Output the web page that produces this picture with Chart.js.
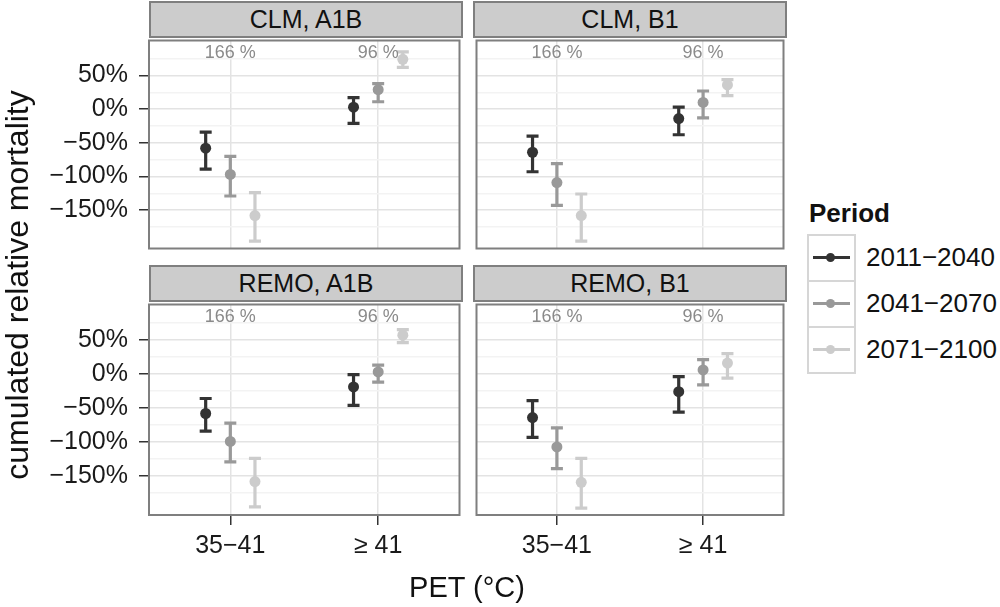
<!DOCTYPE html>
<html>
<head>
<meta charset="utf-8">
<script src="https://cdn.jsdelivr.net/npm/chart.js@4.4.1/dist/chart.umd.min.js"></script>
<style>
  body { margin: 0; background: #fff; font-family: "Liberation Sans", Arial, sans-serif; }
  #wrap { position: relative; width: 1000px; height: 607px; overflow: hidden; }
  .panel { position: absolute; }
  .strip { position: absolute; box-sizing: border-box; background: #cccccc; border: 2px solid #7f7f7f;
           font-size: 25px; color: #111; text-align: center; line-height: 32px; }
  .title { position: absolute; color: #111; font-size: 29px; text-align: center; white-space: nowrap; }
  .legend-title { position: absolute; left: 809px; top: 198px; font-size: 26px; font-weight: bold; color: #111; }
  .key { position: absolute; left: 807px; width: 49px; height: 48px; box-sizing: border-box; border: 2px solid #d6d6d6; }
  .key .ln { position: absolute; left: 4px; right: 4px; top: 20px; height: 3px; }
  .key .dot { position: absolute; left: 17px; top: 17px; width: 9px; height: 9px; border-radius: 50%; }
  .key-label { position: absolute; left: 866px; font-size: 26px; color: #111; line-height: 30px; }
</style>
</head>
<body>
<div id="wrap"></div>
<script>
const panelNames = ['CLM, A1B', 'CLM, B1', 'REMO, A1B', 'REMO, B1'];
const categories = ['35−41', '≥ 41'];
const periods = ['2011−2040', '2041−2070', '2071−2100'];
const periodColors = ['#333333', '#999999', '#cccccc'];
const topNotes = ['166 %', '96 %'];
const yMajorTicks = [-150, -100, -50, 0, 50];
const yMinorTicks = [-175, -125, -75, -25, 25, 75];

// one row per period, columns = [35-41, >=41], values in %
const clmA1bEst  = [[-58, 3], [-97, 29], [-158, 74]];
const clmA1bLow  = [[-89, -21], [-129, 11], [-196, 62]];
const clmA1bHigh = [[-34, 17], [-70, 38], [-124, 85]];

const clmB1Est  = [[-64, -14], [-109, 10], [-158, 36]];
const clmB1Low  = [[-93, -38], [-143, -13], [-196, 20]];
const clmB1High = [[-40, 3], [-81, 27], [-126, 44]];

const remoA1bEst  = [[-58, -19], [-99, 3], [-158, 57]];
const remoA1bLow  = [[-84, -46], [-129, -12], [-195, 46]];
const remoA1bHigh = [[-36, -1], [-72, 13], [-124, 65]];

const remoB1Est  = [[-64, -26], [-107, 6], [-159, 16]];
const remoB1Low  = [[-93, -56], [-139, -16], [-197, -6]];
const remoB1High = [[-39, -4], [-79, 21], [-124, 30]];

const panelData = [
  { est: clmA1bEst, low: clmA1bLow, high: clmA1bHigh },
  { est: clmB1Est, low: clmB1Low, high: clmB1High },
  { est: remoA1bEst, low: remoA1bLow, high: remoA1bHigh },
  { est: remoB1Est, low: remoB1Low, high: remoB1High }
];

// layout of the facet grid (plot area boxes)
const boxes = [
  { left: 149, top: 37, w: 314, h: 215, yLabels: true, xLabels: false },
  { left: 473, top: 37, w: 314, h: 215, yLabels: false, xLabels: false },
  { left: 149, top: 301, w: 314, h: 214, yLabels: true, xLabels: true },
  { left: 473, top: 301, w: 314, h: 214, yLabels: false, xLabels: true }
];
const dodge = 1 / 6;
const noteValue = 84;

Chart.defaults.font.family = '"Liberation Sans", Arial, sans-serif';

const wrap = document.getElementById('wrap');

const facetPlugin = {
  id: 'facet',
  beforeDatasetsDraw(chart) {
    const { ctx } = chart;
    const y = chart.scales.y;
    chart.data.datasets.forEach((ds, i) => {
      const meta = chart.getDatasetMeta(i);
      ctx.save();
      ctx.strokeStyle = ds.backgroundColor;
      ctx.lineWidth = 3.2;
      meta.data.forEach((pt, j) => {
        const d = ds.data[j];
        const top = y.getPixelForValue(d.hi);
        const bot = y.getPixelForValue(d.lo);
        ctx.beginPath();
        ctx.moveTo(pt.x, top); ctx.lineTo(pt.x, bot);
        ctx.moveTo(pt.x - 6, top); ctx.lineTo(pt.x + 6, top);
        ctx.moveTo(pt.x - 6, bot); ctx.lineTo(pt.x + 6, bot);
        ctx.stroke();
      });
      ctx.restore();
    });
  },
  afterDatasetsDraw(chart) {
    const { ctx } = chart;
    ctx.save();
    ctx.fillStyle = '#8a8a8a';
    ctx.font = '18px "Liberation Sans", Arial, sans-serif';
    ctx.textAlign = 'center';
    ctx.textBaseline = 'middle';
    topNotes.forEach((t, i) => {
      ctx.fillText(t, chart.scales.x.getPixelForValue(i + 1), chart.scales.y.getPixelForValue(noteValue));
    });
    ctx.restore();
  },
  afterDraw(chart) {
    const { ctx, chartArea: a } = chart;
    ctx.save();
    ctx.strokeStyle = '#7f7f7f';
    ctx.lineWidth = 2;
    ctx.strokeRect(a.left, a.top, a.right - a.left, a.bottom - a.top);
    ctx.restore();
  }
};

function noPad(axis) {
  axis.paddingTop = 0;
  axis.paddingBottom = 0;
  axis.paddingLeft = 0;
  axis.paddingRight = 0;
}

boxes.forEach((b, p) => {
  const strip = document.createElement('div');
  strip.className = 'strip';
  strip.style.left = b.left + 'px';
  strip.style.top = (b.top - 36) + 'px';
  strip.style.width = b.w + 'px';
  strip.style.height = '37px';
  strip.textContent = panelNames[p];
  wrap.appendChild(strip);

  const divLeft = b.yLabels ? 0 : b.left - 2;
  const holder = document.createElement('div');
  holder.className = 'panel';
  holder.style.left = divLeft + 'px';
  holder.style.top = (b.top - 2) + 'px';
  holder.style.width = (b.left + b.w + 2 - divLeft) + 'px';
  holder.style.height = (2 + b.h + (b.xLabels ? 60 : 2)) + 'px';
  const canvas = document.createElement('canvas');
  holder.appendChild(canvas);
  wrap.appendChild(holder);

  const d = panelData[p];
  const datasets = periods.map((name, pi) => ({
    label: name,
    backgroundColor: periodColors[pi],
    borderWidth: 0,
    pointRadius: 5.5,
    pointHoverRadius: 5.5,
    data: categories.map((c, ci) => ({
      x: ci + 1 + (pi - 1) * dodge,
      y: d.est[pi][ci],
      lo: d.low[pi][ci],
      hi: d.high[pi][ci]
    }))
  }));

  new Chart(canvas, {
    type: 'scatter',
    data: { datasets },
    options: {
      responsive: true,
      maintainAspectRatio: false,
      animation: false,
      events: [],
      layout: { padding: { top: 2, right: 2, bottom: b.xLabels ? 0 : 2, left: b.yLabels ? 0 : 2 } },
      plugins: { legend: { display: false }, tooltip: { enabled: false } },
      scales: {
        x: {
          type: 'linear',
          min: 0.45,
          max: 2.55,
          border: { display: false },
          afterBuildTicks: (axis) => { axis.ticks = categories.map((c, i) => ({ value: i + 1 })); },
          afterFit: (axis) => { axis.height = b.xLabels ? 60 : 0; noPad(axis); },
          grid: {
            color: '#e3e3e3',
            lineWidth: 1.5,
            drawTicks: b.xLabels,
            tickLength: 10,
            tickColor: '#333333',
            tickWidth: 1.5
          },
          ticks: {
            display: b.xLabels,
            autoSkip: false,
            maxRotation: 0,
            padding: 6,
            color: '#1a1a1a',
            font: { size: 25 },
            callback: (v) => categories[v - 1] || ''
          }
        },
        y: {
          min: -207,
          max: 102,
          border: { display: false },
          afterBuildTicks: (axis) => {
            axis.ticks = yMinorTicks.concat(yMajorTicks).sort((a, c) => a - c).map(v => ({ value: v }));
          },
          afterFit: (axis) => { axis.width = b.yLabels ? b.left : 0; noPad(axis); },
          grid: {
            color: (ctx) => yMajorTicks.includes(ctx.tick.value) ? '#e3e3e3' : '#f3f3f3',
            lineWidth: 1.5,
            drawTicks: b.yLabels,
            tickLength: 10,
            tickColor: (ctx) => yMajorTicks.includes(ctx.tick.value) ? '#333333' : 'rgba(0,0,0,0)',
            tickWidth: 1.5
          },
          ticks: {
            display: b.yLabels,
            autoSkip: false,
            padding: 11,
            color: '#1a1a1a',
            font: { size: 25 },
            callback: (v) => yMajorTicks.includes(v) ? (v < 0 ? '−' + Math.abs(v) : v) + '%' : ''
          }
        }
      }
    },
    plugins: [facetPlugin]
  });
});

// axis titles
const yTitle = document.createElement('div');
yTitle.className = 'title';
yTitle.style.left = (17 - 250) + 'px';
yTitle.style.top = (285 - 18) + 'px';
yTitle.style.width = '500px';
yTitle.style.lineHeight = '36px';
yTitle.style.fontSize = '32px';
yTitle.style.transform = 'rotate(-90deg)';
yTitle.textContent = 'cumulated relative mortality';
wrap.appendChild(yTitle);

const xTitle = document.createElement('div');
xTitle.className = 'title';
xTitle.style.left = (467 - 200) + 'px';
xTitle.style.top = (587 - 18) + 'px';
xTitle.style.width = '400px';
xTitle.style.lineHeight = '36px';
xTitle.textContent = 'PET (°C)';
wrap.appendChild(xTitle);

// legend
const lt = document.createElement('div');
lt.className = 'legend-title';
lt.textContent = 'Period';
wrap.appendChild(lt);
periods.forEach((name, i) => {
  const key = document.createElement('div');
  key.className = 'key';
  key.style.top = (234 + i * 46) + 'px';
  const ln = document.createElement('div');
  ln.className = 'ln';
  ln.style.background = periodColors[i];
  const dot = document.createElement('div');
  dot.className = 'dot';
  dot.style.background = periodColors[i];
  key.appendChild(ln);
  key.appendChild(dot);
  wrap.appendChild(key);
  const lab = document.createElement('div');
  lab.className = 'key-label';
  lab.style.top = (257 - 15 + i * 46) + 'px';
  lab.textContent = name;
  wrap.appendChild(lab);
});
</script>
</body>
</html>
